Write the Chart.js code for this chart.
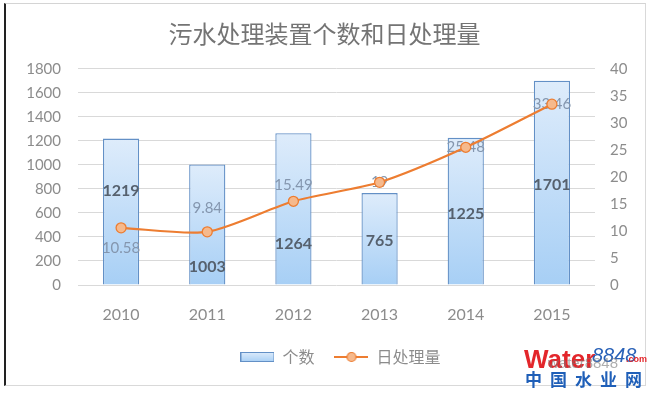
<!DOCTYPE html>
<html>
<head>
<meta charset="utf-8">
<script src="https://cdn.jsdelivr.net/npm/chart.js@4/dist/chart.umd.min.js"></script>
<style>
  body { margin: 0; background: #fff; }
  #frame {
    position: absolute; left: 4px; top: 3px; width: 639px; height: 381px;
    border-left: 2px solid #222; border-top: 1px solid #d4d4d4;
    border-right: 1px solid #d9d9d9; border-bottom: 1px solid #d9d9d9;
  }
  #chart { position: absolute; left: 0; top: 0; }
</style>
</head>
<body>
<div id="frame"></div>
<canvas id="chart" width="652" height="393"></canvas>
<script>
// data
const years = ["2010", "2011", "2012", "2013", "2014", "2015"];
const unitCount = [1219, 1003, 1264, 765, 1225, 1701];
const dailyVolume = [10.58, 9.84, 15.49, 19, 25.48, 33.46];
const countTicks = [0, 200, 400, 600, 800, 1000, 1200, 1400, 1600, 1800];
const volumeTicks = [0, 5, 10, 15, 20, 25, 30, 35, 40];

// label nudges (px), like the hand-placed labels in the original
const barLabelShift = [-21, 42, 35, 2, 3, 2];
const lineLabelShift = [20, -24, -16, 0, 0, 0];

const ORANGE = "#ed7d31";
const BAR_EDGE = "#6390c6";

function barGradient(ctx, top, bottom) {
    const g = ctx.createLinearGradient(0, top, 0, bottom);
    g.addColorStop(0, "#deecfb");
    g.addColorStop(1, "#a7cff5");
    return g;
}

function barSwatch() {
    const c = document.createElement("canvas");
    c.width = 34; c.height = 10;
    const x = c.getContext("2d");
    x.fillStyle = barGradient(x, 0, 10);
    x.fillRect(0.5, 0.5, 33, 9);
    x.strokeStyle = BAR_EDGE;
    x.lineWidth = 1;
    x.strokeRect(0.5, 0.5, 33, 9);
    return c;
}

function lineSwatch() {
    const c = document.createElement("canvas");
    c.width = 34; c.height = 12;
    const x = c.getContext("2d");
    x.strokeStyle = ORANGE;
    x.lineWidth = 2;
    x.beginPath(); x.moveTo(0, 6); x.lineTo(34, 6); x.stroke();
    x.beginPath(); x.arc(17, 6, 4.5, 0, Math.PI * 2);
    x.fillStyle = "#f6b98c"; x.fill();
    x.lineWidth = 1.2; x.stroke();
    return c;
}
const swatches = [barSwatch(), lineSwatch()];

const valueLabels = {
    id: "valueLabels",
    afterDatasetDraw(chart, args) {
        if (args.index !== 0) return;
        const ctx = chart.ctx;
        ctx.save();
        ctx.textAlign = "center";
        ctx.textBaseline = "middle";
        ctx.font = "bold 16px Lato";
        ctx.fillStyle = "#56616e";
        chart.getDatasetMeta(0).data.forEach((bar, i) => {
            ctx.fillText(String(unitCount[i]), bar.x, (bar.y + bar.base) / 2 + barLabelShift[i]);
        });
        ctx.font = "15px Lato";
        ctx.fillStyle = "#8496ae";
        chart.getDatasetMeta(1).data.forEach((pt, i) => {
            ctx.fillText(String(dailyVolume[i]), pt.x, pt.y + lineLabelShift[i]);
        });
        ctx.restore();
    }
};

// the original legend sits a little right of centre
const legendNudge = {
    id: "legendNudge",
    afterLayout(chart) {
        chart.legend.left += 32;
    }
};

const watermark = {
    id: "watermark",
    afterDraw(chart) {
        const ctx = chart.ctx;
        ctx.save();
        ctx.textBaseline = "alphabetic";
        ctx.textAlign = "left";
        ctx.font = "bold 26px 'Liberation Sans'";
        ctx.fillStyle = "#e3262b";
        ctx.fillText("Water", 524, 368);
        ctx.font = "italic 20px 'Liberation Sans'";
        ctx.fillStyle = "#2a62b8";
        ctx.fillText("8848", 592, 362);
        ctx.font = "bold 9px 'Liberation Sans'";
        ctx.fillStyle = "#e3262b";
        ctx.fillText(".com", 626, 362);
        ctx.font = "15px 'Liberation Sans'";
        ctx.fillStyle = "rgba(120,120,120,0.6)";
        ctx.fillText("water8848", 548, 368);
        ctx.font = "bold 17px 'Noto Sans CJK SC'";
        ctx.fillStyle = "#1f5fb8";
        const chars = ["中", "国", "水", "业", "网"];
        chars.forEach((ch, i) => ctx.fillText(ch, 525 + i * 25, 386));
        ctx.restore();
    }
};

new Chart(document.getElementById("chart"), {
    data: {
        labels: years,
        datasets: [
            {
                type: "bar",
                label: "个数",
                data: unitCount,
                yAxisID: "y",
                order: 1,
                backgroundColor: (c) => {
                    const s = c.chart.scales.y;
                    if (!s || !c.parsed) return "#c5def8";
                    const top = s.getPixelForValue(c.parsed.y);
                    const bottom = s.getPixelForValue(0);
                    if (!Number.isFinite(top) || !Number.isFinite(bottom) || top === bottom) return "#c5def8";
                    return barGradient(c.chart.ctx, top, bottom);
                },
                borderColor: BAR_EDGE,
                borderWidth: 1.3,
                categoryPercentage: 1,
                barPercentage: 0.42
            },
            {
                type: "line",
                label: "日处理量",
                data: dailyVolume,
                yAxisID: "y1",
                order: 0,
                borderColor: ORANGE,
                borderWidth: 2.2,
                tension: 0.25,
                pointStyle: "circle",
                pointRadius: 5,
                pointBorderWidth: 1.3,
                pointBackgroundColor: "#f6b98c",
                pointBorderColor: ORANGE
            }
        ]
    },
    options: {
        responsive: false,
        animation: false,
        layout: { padding: { left: 6, right: 9, top: 4, bottom: 18 } },
        scales: {
            x: {
                grid: { display: false, drawTicks: false },
                border: { display: false },
                ticks: { color: "#8c8c8c", font: { family: "Lato", size: 16 }, padding: 20 },
                afterFit: (s) => { s.height = 44; }
            },
            y: {
                position: "left",
                min: 0, max: 1800,
                afterBuildTicks: (s) => { s.ticks = countTicks.map((v) => ({ value: v })); },
                grid: { color: "#d9d9d9", lineWidth: 1, drawTicks: false },
                border: { display: false },
                ticks: { color: "#8c8c8c", font: { family: "Lato", size: 15 }, padding: 17, callback: (v) => String(v) },
                afterFit: (s) => { s.width = 72; }
            },
            y1: {
                position: "right",
                min: 0, max: 40,
                afterBuildTicks: (s) => { s.ticks = volumeTicks.map((v) => ({ value: v })); },
                grid: { display: false, drawTicks: false },
                border: { display: false },
                ticks: { color: "#8c8c8c", font: { family: "Lato", size: 15 }, padding: 15, callback: (v) => String(v) },
                afterFit: (s) => { s.width = 48; }
            }
        },
        plugins: {
            title: {
                display: true,
                text: "污水处理装置个数和日处理量",
                color: "#747474",
                font: { family: "'Noto Sans CJK SC'", size: 24, weight: "normal" },
                padding: { top: 15, bottom: 21 }
            },
            legend: {
                position: "bottom",
                labels: {
                    usePointStyle: true,
                    pointStyleWidth: 34,
                    boxHeight: 10,
                    padding: 20,
                    color: "#8c8c8c",
                    font: { family: "'Noto Sans CJK SC'", size: 16 },
                    sort: (a, b) => a.datasetIndex - b.datasetIndex,
                    generateLabels: (chart) => {
                        const items = Chart.defaults.plugins.legend.labels.generateLabels(chart);
                        items.forEach((it) => { it.pointStyle = swatches[it.datasetIndex]; });
                        return items;
                    }
                }
            },
            tooltip: { enabled: false }
        }
    },
    plugins: [valueLabels, legendNudge, watermark]
});
</script>
</body>
</html>
